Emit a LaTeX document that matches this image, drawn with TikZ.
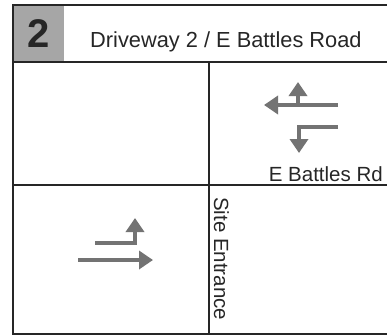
\documentclass[tikz,border=0pt]{standalone}
\usepackage{fontspec}
\setmainfont{Liberation Sans}
\usetikzlibrary{arrows.meta}
\begin{document}
\begin{tikzpicture}[x=1pt,y=-1pt,
  frame/.style={line width=1.8pt,black!85},
  move/.style={line width=3.5pt,black!55,-{Triangle[length=14pt,width=18pt]}},
  label/.style={inner sep=0pt,font=\fontsize{20.5}{24}\selectfont,black!85}]
\useasboundingbox (0,0) rectangle (387,335);
\fill[black!35] (14,5) rectangle (64,61);

\draw[frame] (387,5)--(13,5)--(13,334)--(387,334);
\draw[frame] (13,62)--(387,62);
\draw[frame] (13,185)--(387,185);
\draw[frame] (209,62)--(209,334);

\node[inner sep=0pt,font=\fontsize{40}{40}\selectfont\bfseries,black!85] (num) at (39,34) {2};
\node[label,anchor=base west,font=\fontsize{21.8}{26}\selectfont] (title) at (90,47) {Driveway 2 / E Battles Road};
\node[label,anchor=base east] (battles) at (383,181) {E Battles Rd};
\node[label,anchor=base west,rotate=-90] (site) at (214,197) {Site Entrance};

\draw[move] (338,105)--(264,105);
\draw[move] (298,105)--(298,82);
\draw[move] (338,127)--(299,127)--(299,153);

\draw[move] (95,243)--(135,243)--(135,218);
\draw[move] (78,260)--(153,260);
\end{tikzpicture}
\end{document}
